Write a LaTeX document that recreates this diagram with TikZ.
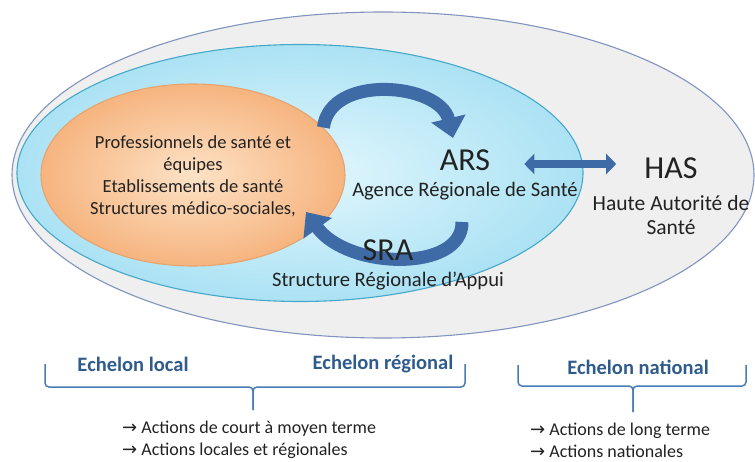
\documentclass[tikz,border=0pt]{standalone}
\usepackage{fontspec}
\setmainfont{Carlito}
\newfontfamily\arrowfont{DejaVu Sans}
\usetikzlibrary{arrows.meta, shapes.geometric}

\definecolor{outerfill}{HTML}{EFEFEF}
\definecolor{outerline}{HTML}{8194BF}
\definecolor{cyanin}{HTML}{E3F7FD}
\definecolor{cyanout}{HTML}{ABE2F4}
\definecolor{cyanline}{HTML}{45A8C8}
\definecolor{orangein}{HTML}{FDE2C6}
\definecolor{orangeout}{HTML}{F6B47F}
\definecolor{orangeline}{HTML}{E6A46E}
\definecolor{arrowblue}{HTML}{3E6BA6}
\definecolor{echelon}{HTML}{2F5B8C}
\definecolor{bracecol}{HTML}{4A7BB7}
\definecolor{txtcol}{HTML}{222222}

\newcommand{\toarrow}{{\arrowfont →}}

\begin{document}
\begin{tikzpicture}[x=1pt, y=-1pt,
  zone/.style={ellipse, inner sep=0pt, line width=1.1pt},
  label/.style={text=txtcol, align=center, inner sep=1pt},
  acro/.style={text=txtcol, font=\fontsize{32}{36}\selectfont, inner sep=1pt},
  bigarrow/.style={draw=arrowblue, line width=13pt, -{Triangle[length=20pt,width=34pt]}},
  dblarrow/.style={draw=arrowblue, line width=8pt, {Triangle[length=10pt,width=20pt]}-{Triangle[length=10pt,width=20pt]}},
  level/.style={text=echelon, font=\fontsize{20.5}{24}\selectfont\bfseries, inner sep=1pt},
  brace/.style={draw=bracecol, line width=1.5pt, rounded corners=4pt},
  action/.style={text=txtcol, font=\fontsize{18}{22}\selectfont, align=left, anchor=west, inner sep=0pt}]
  \useasboundingbox (0,0) rectangle (755,462);

  % the three levels
  \node[zone, minimum width=742pt, minimum height=326pt, draw=outerline, fill=outerfill] (nat) at (383,175) {};
  \node[zone, minimum width=566pt, minimum height=257pt, draw=cyanline, inner color=cyanin, outer color=cyanout] (reg) at (300,173) {};
  \node[zone, minimum width=304pt, minimum height=182pt, draw=orangeline, inner color=orangein, outer color=orangeout] (loc) at (193,175) {};

  % exchanges
  \coordinate (arsin) at (453,138);
  \coordinate (sraout) at (462,222);
  \coordinate (locin) at (306,212);
  \draw[bigarrow] (loc.20) .. controls (330,73) and (440,83) .. (arsin);
  \draw[bigarrow] (sraout) .. controls (463,272) and (348,270) .. (locin);

  \node[label, font=\fontsize{18.5}{22}\selectfont] (pro) at (193,176)
    {Professionnels de santé et\\équipes\\Etablissements de santé\\Structures médico-sociales,};

  \node[acro] (ars) at (465,160) {ARS};
  \node[label, font=\fontsize{20.6}{24}\selectfont] (arsname) at (465,191) {Agence Régionale de Santé};
  \node[acro] (sra) at (388,250) {SRA};
  \node[label, font=\fontsize{20.6}{24}\selectfont] (sraname) at (388,281) {Structure Régionale d’Appui};
  \node[acro] (has) at (671,168) {HAS};
  \node[label, font=\fontsize{21.5}{24}\selectfont] (hasname) at (671,215) {Haute Autorité de\\Santé};

  \draw[dblarrow] ([xshift=33pt, yshift=-4pt]ars.east) -- ([xshift=-27pt, yshift=4pt]has.west);

  % echelons
  \node[level] (local) at (133,364) {Echelon local};
  \node[level] (regional) at (383,364) {Echelon régional};
  \node[level] (national) at (638,367) {Echelon national};
  \draw[brace] (45,364) -- (45,387) -- (253,387) -- (253,410);
  \draw[brace] (465,364) -- (465,387) -- (253,387) -- (253,410);
  \draw[brace] (518,365) -- (518,386) -- (633,386) -- (633,412);
  \draw[brace] (746,365) -- (746,386) -- (633,386) -- (633,412);

  \node[action] (act1) at (122,440) {\toarrow{} Actions de court à moyen terme\\\toarrow{} Actions locales et régionales};
  \node[action] (act2) at (530,440) {\toarrow{} Actions de long terme\\\toarrow{} Actions nationales};
\end{tikzpicture}
\end{document}
